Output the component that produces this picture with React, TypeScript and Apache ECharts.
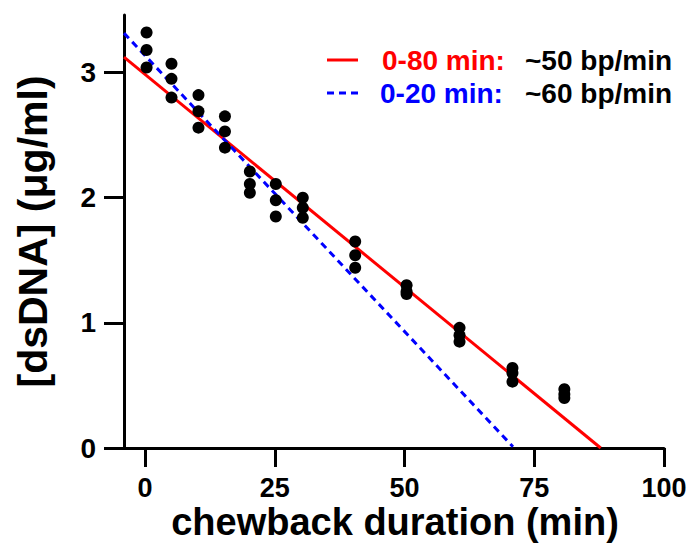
import React, { useEffect, useRef } from "react";
import * as echarts from "echarts";

// Measured data (chewback duration in min, [dsDNA] in µg/ml)
const timeX: number[] = [
  0.3, 0.3, 0.3,
  5.1, 5.1, 5.1,
  10.3, 10.3, 10.3,
  15.4, 15.4, 15.4,
  20.2, 20.2, 20.2,
  25.2, 25.2, 25.2,
  30.4, 30.4, 30.4,
  40.5, 40.5, 40.5,
  50.4, 50.4, 50.4,
  60.6, 60.6, 60.6,
  70.8, 70.8, 70.8,
  80.8, 80.8, 80.8,
];
const dnaY: number[] = [
  3.32, 3.18, 3.04,
  3.07, 2.95, 2.8,
  2.82, 2.69, 2.56,
  2.65, 2.53, 2.4,
  2.21, 2.11, 2.04,
  2.11, 1.98, 1.85,
  2.0, 1.92, 1.84,
  1.65, 1.54, 1.44,
  1.3, 1.25, 1.23,
  0.96, 0.9, 0.85,
  0.64, 0.6, 0.53,
  0.47, 0.43, 0.4,
];

// Fit lines (endpoints)
const fit80X: number[] = [-4.05, 87.8];
const fit80Y: number[] = [3.123, 0];
const fit20X: number[] = [-4.05, 70.9];
const fit20Y: number[] = [3.315, 0.01];

const xTicks: number[] = [0, 25, 50, 75, 100];
const yTicks: number[] = [0, 1, 2, 3];

const xTitle = "chewback duration (min)";
const yTitle = "[dsDNA] (μg/ml)";

const legendRows = [
  { label: "0-80 min:", rate: "~50 bp/min", color: "#ff0000", dashed: false },
  { label: "0-20 min:", rate: "~60 bp/min", color: "#0000ff", dashed: true },
];

const FONT = "'Liberation Sans', Arial, Helvetica, sans-serif";

export default function App() {
  const ref = useRef<HTMLDivElement>(null);

  useEffect(() => {
    if (!ref.current) return;
    const chart = echarts.init(ref.current, undefined, { renderer: "svg" });

    const scatterData = timeX.map((x, i) => [x, dnaY[i]]);
    const red = fit80X.map((x, i) => [x, fit80Y[i]]);
    const blue = fit20X.map((x, i) => [x, fit20Y[i]]);

    const graphic: any[] = [];
    legendRows.forEach((r, i) => {
      const y = 60 + i * 33;
      graphic.push({
        type: "line",
        shape: { x1: 327, y1: y, x2: 358, y2: y },
        style: {
          stroke: r.color,
          lineWidth: 3,
          lineDash: r.dashed ? [7, 5] : null,
        },
      });
      graphic.push({
        type: "text",
        x: i === 0 ? 382 : 380,
        y,
        style: {
          text: r.label,
          fill: r.color,
          font: `bold 28px ${FONT}`,
          verticalAlign: "middle",
          align: "left",
        },
      });
      graphic.push({
        type: "text",
        x: 525,
        y,
        style: {
          text: r.rate,
          fill: "#000",
          font: `bold 28px ${FONT}`,
          verticalAlign: "middle",
          align: "left",
        },
      });
    });
    graphic.push({
      type: "text",
      x: 395,
      y: 522,
      style: {
        text: xTitle,
        fill: "#000",
        font: `bold 38px ${FONT}`,
        verticalAlign: "middle",
        align: "center",
      },
    });

    chart.setOption({
      animation: false,
      backgroundColor: "#fff",
      grid: {
        left: 124,
        right: 25,
        top: 15,
        bottom: 95,
        containLabel: false,
        outerBoundsMode: "none",
      },
      xAxis: {
        type: "value",
        min: -4.05,
        max: 100,
        axisLine: { onZero: false, lineStyle: { color: "#000", width: 3 } },
        axisTick: { show: true, length: 19, lineStyle: { color: "#000", width: 3 }, customValues: xTicks },
        axisLabel: { customValues: xTicks, margin: 26, fontFamily: FONT, fontWeight: "bold", fontSize: 27, color: "#000" },
        splitLine: { show: false },
      },
      yAxis: {
        type: "value",
        min: 0,
        max: 3.46,
        name: yTitle,
        nameLocation: "middle",
        nameGap: 71,
        nameTextStyle: { fontFamily: FONT, fontWeight: "bold", fontSize: 41, color: "#000" },
        axisLine: { show: true, onZero: false, lineStyle: { color: "#000", width: 3 } },
        axisTick: { show: true, length: 20, lineStyle: { color: "#000", width: 3 }, customValues: yTicks },
        axisLabel: { customValues: yTicks, margin: 28, fontFamily: FONT, fontWeight: "bold", fontSize: 28, color: "#000" },
        splitLine: { show: false },
      },
      series: [
        {
          type: "line",
          data: red,
          symbol: "none",
          lineStyle: { color: "#ff0000", width: 3 },
          z: 2,
        },
        {
          type: "line",
          data: blue,
          symbol: "none",
          lineStyle: { color: "#0000ff", width: 3, type: [7, 5] },
          z: 2,
        },
        {
          type: "scatter",
          data: scatterData,
          symbol: "circle",
          symbolSize: 12,
          itemStyle: { color: "#000", opacity: 1 },
          z: 3,
        },
      ],
      graphic,
    });

    return () => chart.dispose();
  }, []);

  return (
    <div
      ref={ref}
      style={{ position: "fixed", left: 0, top: 0, width: 689, height: 543, background: "#fff" }}
    />
  );
}
